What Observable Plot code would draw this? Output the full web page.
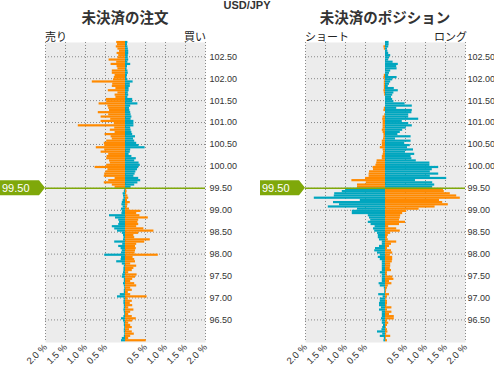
<!DOCTYPE html>
<html><head><meta charset="utf-8">
<script src="https://cdn.jsdelivr.net/npm/d3@7"></script>
<script src="https://cdn.jsdelivr.net/npm/@observablehq/plot@0.6"></script>
<style>
html,body{margin:0;padding:0;background:#fff;}
#wrap{position:relative;width:494px;height:365px;overflow:hidden;font-family:"Liberation Sans",Arial,sans-serif;color:#333;}
#wrap svg{position:absolute;top:0;}
.t{position:absolute;white-space:nowrap;}
.ttl{font-family:"Noto Sans CJK JP",sans-serif;font-weight:bold;font-size:14.5px;color:#333;top:8px;line-height:18px;transform:translateX(-50%);}
.side{font-family:"Noto Sans CJK JP",sans-serif;font-size:11px;top:29px;line-height:14px;color:#222;}
</style></head>
<body><div id="wrap">
<div class="t" style="left:247px;top:0px;transform:translateX(-50%);font-weight:bold;font-size:11px;line-height:11px;color:#333">USD/JPY</div>
<div class="t ttl" style="left:125px">未決済の注文</div>
<div class="t ttl" style="left:385px">未決済のポジション</div>
<div class="t side" style="left:45px">売り</div>
<div class="t side" style="left:184px">買い</div>
<div class="t side" style="left:305px">ショート</div>
<div class="t side" style="left:434px">ロング</div>
</div>
<script>
const currentPrice = 99.50;
const levels = [
102.80,102.75,102.70,102.65,102.60,102.55,102.50,
102.45,102.40,102.35,102.30,102.25,102.20,102.15,102.10,102.05,102.00,
101.95,101.90,101.85,101.80,101.75,101.70,101.65,101.60,101.55,101.50,
101.45,101.40,101.35,101.30,101.25,101.20,101.15,101.10,101.05,101.00,
100.95,100.90,100.85,100.80,100.75,100.70,100.65,100.60,100.55,100.50,
100.45,100.40,100.35,100.30,100.25,100.20,100.15,100.10,100.05,100.00,
99.95,99.90,99.85,99.80,99.75,99.70,99.65,99.60,99.55,99.50,
99.45,99.40,99.35,99.30,99.25,99.20,99.15,99.10,99.05,99.00,
98.95,98.90,98.85,98.80,98.75,98.70,98.65,98.60,98.55,98.50,
98.45,98.40,98.35,98.30,98.25,98.20,98.15,98.10,98.05,98.00,
97.95,97.90,97.85,97.80,97.75,97.70,97.65,97.60,97.55,97.50,
97.45,97.40,97.35,97.30,97.25,97.20,97.15,97.10,97.05,97.00,
96.95,96.90,96.85,96.80,96.75,96.70,96.65,96.60,96.55,96.50,
96.45,96.40,96.35,96.30,96.25,96.20,96.15,96.10,96.05,96.00];

// open orders: sell side (left bars) and buy side (right bars), % of total
const orderSell = [
0.22,0.20,0.23,0.19,0.15,0.21,0.17,
0.19,0.41,0.22,0.36,0.21,0.19,0.33,0.33,0.26,0.28,
0.30,0.83,0.32,0.33,0.24,0.43,0.19,0.26,0.24,0.48,
0.47,0.66,0.44,0.42,0.40,0.68,0.42,0.61,0.37,0.61,
0.28,1.18,0.27,0.38,0.26,0.51,0.36,0.33,0.47,0.53,
0.52,0.73,0.52,0.61,0.42,0.46,0.47,0.40,0.38,0.47,
0.76,0.44,0.49,0.52,0.53,0.26,0.42,0.53,0.33,0.26,
0.02,0.03,0.06,0.05,0.04,0.06,0.08,0.09,0.06,0.10,
0.08,0.09,0.40,0.25,0.17,0.15,0.17,0.33,0.27,0.20,
0.08,0.05,0.04,0.05,0.27,0.07,0.17,0.11,0.08,0.10,
0.52,0.10,0.11,0.22,0.08,0.03,0.04,0.04,0.05,0.07,
0.08,0.03,0.03,0.05,0.03,0.02,0.03,0.03,0.13,0.20,
0.03,0.04,0.04,0.03,0.03,0.04,0.03,0.02,0.04,0.10,
0.05,0.03,0.03,0.02,0.03,0.03,0.02,0.03,0.08,0.10];
const orderBuy = [
0.06,0.05,0.06,0.07,0.08,0.08,0.07,
0.07,0.08,0.06,0.13,0.05,0.04,0.06,0.07,0.05,0.04,
0.06,0.19,0.12,0.12,0.09,0.09,0.07,0.08,0.06,0.18,
0.18,0.31,0.13,0.10,0.11,0.13,0.14,0.16,0.14,0.21,
0.21,0.21,0.13,0.14,0.16,0.18,0.25,0.20,0.23,0.28,
0.34,0.49,0.13,0.12,0.09,0.16,0.27,0.23,0.34,0.37,
0.33,0.30,0.26,0.24,0.21,0.33,0.38,0.31,0.23,0.14,
0.03,0.04,0.03,0.06,0.08,0.05,0.12,0.06,0.05,0.10,
0.39,0.28,0.36,0.57,0.33,0.31,0.33,0.28,0.46,0.71,
0.33,0.21,0.23,0.62,0.48,0.28,0.25,0.27,0.25,0.24,
0.82,0.19,0.23,0.25,0.13,0.28,0.21,0.17,0.08,0.29,
0.25,0.18,0.13,0.23,0.28,0.13,0.17,0.07,0.13,0.54,
0.07,0.17,0.12,0.18,0.08,0.21,0.13,0.08,0.17,0.27,
0.18,0.08,0.13,0.17,0.10,0.17,0.22,0.13,0.08,0.52];
// open positions: short (left bars) and long (right bars), % of total
const posShort = [
0,0,0.04,0.03,0,0,0,
0,0,0,0,0,0,0,0,0.03,0.04,
0.02,0.03,0.03,0.03,0.03,0.04,0.03,0.02,0,0,
0,0,0,0.03,0.04,0,0.02,0.06,0.07,0.06,
0.06,0.06,0.06,0.08,0.06,0.04,0.04,0.05,0.08,0.08,
0.08,0.13,0.06,0.05,0.06,0.08,0.08,0.21,0.22,0.24,
0.31,0.30,0.40,0.41,0.41,0.50,0.84,0.48,0.70,0.70,
1.00,1.08,1.27,1.28,1.78,0.63,1.30,1.15,1.43,0.70,
0.83,0.83,0.43,0.40,0.37,0.43,0.36,0.26,0.30,0.27,
0.20,0.18,0.18,0.15,0.08,0.08,0.15,0.25,0.27,0.20,
0.13,0.18,0.13,0.08,0.08,0.08,0.08,0.08,0.13,0.08,
0.08,0.08,0.08,0.16,0.13,0.03,0.02,0.02,0.17,0.06,
0.13,0.13,0.15,0.15,0.10,0.15,0.08,0.08,0.08,0.10,
0.08,0.08,0.05,0.07,0.09,0.20,0.07,0.13,0.03,0.04];
const posLong = [
0.09,0.09,0.08,0.05,0.06,0.08,0.13,
0.10,0.08,0.19,0.32,0.28,0.29,0.13,0.10,0.08,0.29,
0.18,0.13,0.10,0.07,0.22,0.32,0.21,0.18,0.15,0.18,
0.21,0.49,0.67,0.28,0.67,0.66,0.58,0.58,0.83,0.42,
0.58,0.67,0.52,0.43,0.37,0.31,0.64,0.25,0.64,0.48,
0.62,0.55,0.70,0.50,0.73,0.64,0.66,0.77,1.11,1.11,
1.33,1.17,1.12,1.33,1.12,1.53,0.75,1.18,1.23,1.18,
1.45,1.47,1.62,1.78,1.87,1.35,1.43,1.57,1.24,0.84,
0.53,0.43,0.38,0.37,0.35,0.50,0.35,0.08,0.28,0.37,
0.13,0.07,0.05,0.07,0.28,0.15,0.10,0.05,0.15,0.18,
0.12,0.18,0.18,0.17,0.13,0.13,0.12,0.15,0.05,0.05,
0.18,0.21,0.10,0.16,0.07,0.05,0.03,0.02,0.10,0.05,
0.02,0.05,0.05,0.04,0.16,0.05,0.16,0.10,0.22,0.22,
0.05,0.08,0.05,0.02,0.05,0.06,0.03,0.13,0.02,0.05];

const yTicks = [102.5,102,101.5,101,100.5,100,99.5,99,98.5,98,97.5,97,96.5];
const xGrid = [-2,-1.5,-1,-0.5,0,0.5,1,1.5,2];
const xTicks = [-2,-1.5,-1,-0.5,0.5,1,1.5,2];

const ORANGE = "#ff8a00", TEAL = "#00a6bf", GREEN = "#7fa80a";
const step = 0.05;

const rows = levels.map((p, k) => ({p, orderSell: orderSell[k], orderBuy: orderBuy[k], posShort: posShort[k], posLong: posLong[k]}));

function panel(leftKey, rightKey, width, marginLeft, marginRight, yPad) {
  const above = d => d.p >= currentPrice;
  const plot = Plot.plot({
    width, height: 365,
    marginTop: 42, marginBottom: 23, marginLeft, marginRight,
    style: {background: "transparent", fontFamily: "'Liberation Sans', Arial, sans-serif", fontSize: "9.5px", color: "#333", overflow: "visible"},
    x: {domain: [-2, 2]},
    y: {domain: [95.985, 102.825]},
    marks: [
      Plot.frame({fill: "#ececec", stroke: null}),
      Plot.gridX(xGrid, {stroke: "#888", strokeOpacity: 1, strokeDasharray: "1,2"}),
      Plot.gridY(yTicks, {stroke: "#888", strokeOpacity: 1, strokeDasharray: "1,2"}),
      Plot.rect(rows, {x1: d => -d[leftKey], x2: 0, y1: "p", y2: d => d.p + step, fill: d => above(d) ? ORANGE : TEAL}),
      Plot.rect(rows, {x1: 0, x2: d => d[rightKey], y1: "p", y2: d => d.p + step, fill: d => above(d) ? TEAL : ORANGE}),
      Plot.ruleY([currentPrice], {stroke: GREEN, strokeWidth: 1.5}),
      Plot.axisY(yTicks, {anchor: "right", tickSize: 0, tickPadding: yPad, fontSize: 9, tickFormat: d => d.toFixed(2), label: null}),
      Plot.axisX(xTicks, {anchor: "bottom", tickSize: 0, tickPadding: 3, tickRotate: -45, tickFormat: d => Math.abs(d).toFixed(1) + " %", label: null})
    ]
  });
  // current-price tag
  const y = plot.scale("y").apply(currentPrice);
  const ns = "http://www.w3.org/2000/svg";
  const g = document.createElementNS(ns, "g");
  const x0 = marginLeft - 45, x1 = marginLeft - 6, x2 = marginLeft;
  const path = document.createElementNS(ns, "path");
  path.setAttribute("d", `M${x0},${y - 7.5}H${x1}L${x2},${y}L${x1},${y + 7.5}H${x0}Z`);
  path.setAttribute("fill", GREEN);
  g.appendChild(path);
  const t = document.createElementNS(ns, "text");
  t.setAttribute("x", x0 + 2);
  t.setAttribute("y", y + 4);
  t.setAttribute("fill", "#fff");
  t.setAttribute("text-anchor", "start");
  t.setAttribute("font-size", "11px");
  t.textContent = currentPrice.toFixed(2);
  g.appendChild(t);
  plot.appendChild(g);
  return plot;
}

const wrap = document.getElementById("wrap");
const p1 = panel("orderSell", "orderBuy", 247, 45, 42, 4);
p1.style.left = "0px";
const p2 = panel("posShort", "posLong", 247, 58, 29, 2);
p2.style.left = "247px";
wrap.appendChild(p1);
wrap.appendChild(p2);
</script>
</body></html>
